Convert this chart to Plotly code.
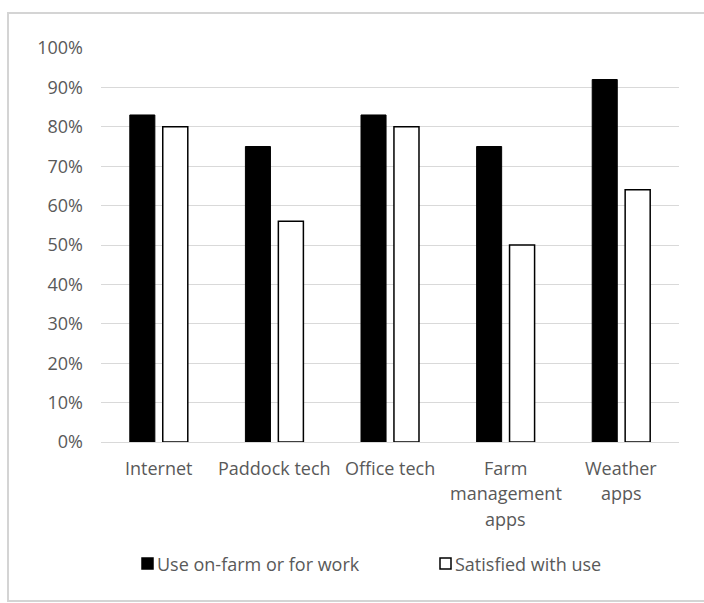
import plotly.graph_objects as go

categories = ["Internet", "Paddock tech", "Office tech", "Farm<br>management<br>apps", "Weather<br>apps"]
use_on_farm = [0.83, 0.75, 0.83, 0.75, 0.92]
satisfied = [0.80, 0.56, 0.80, 0.50, 0.64]
series_names = ["Use on-farm or for work", "Satisfied with use"]
series_fill = ["#000000", "#ffffff"]
y_ticks = [0, 0.1, 0.2, 0.3, 0.4, 0.5, 0.6, 0.7, 0.8, 0.9, 1.0]

W, H = 704, 603
L, R, T, B = 101, 25, 48, 161

fig = go.Figure()
fig.add_trace(go.Bar(x=categories, y=use_on_farm, name=series_names[0],
                     marker=dict(color=series_fill[0], line=dict(color="#000000", width=1))))
fig.add_trace(go.Bar(x=categories, y=satisfied, name=series_names[1],
                     marker=dict(color=series_fill[1], line=dict(color="#000000", width=1.5))))

font = dict(family="Open Sans, sans-serif", size=18, color="#595959")

pw = W - L - R
ph = H - T - B
def px_x(p):
    return (p - L) / pw
def px_y(p):
    return (H - B - p) / ph

annotations = []
# category labels, one annotation per text line
for cat in categories:
    for i, line in enumerate(cat.split("<br>")):
        annotations.append(dict(x=cat, xref="x", y=px_y(468 + 25.5 * i), yref="paper",
                                text=line, showarrow=False, xanchor="center", yanchor="middle",
                                font=font))

shapes = [
    dict(type="rect", xref="paper", yref="paper",
         x0=px_x(8), x1=px_x(712), y0=px_y(601), y1=px_y(13),
         line=dict(color="#d4d4d4", width=2), fillcolor="rgba(0,0,0,0)", layer="below"),
]
# manual legend
legend_x = [142, 440]
for name, fill, lx in zip(series_names, series_fill, legend_x):
    shapes.append(dict(type="rect", xref="paper", yref="paper",
                       x0=px_x(lx), x1=px_x(lx + 11), y0=px_y(569), y1=px_y(558),
                       line=dict(color="#000000", width=1.5), fillcolor=fill))
    annotations.append(dict(x=px_x(lx + 13), xref="paper", y=px_y(564), yref="paper",
                            text=name, showarrow=False, xanchor="left", yanchor="middle",
                            font=font))

fig.update_layout(
    width=W, height=H,
    margin=dict(l=L, r=R, t=T, b=B, autoexpand=False),
    paper_bgcolor="white", plot_bgcolor="white",
    barmode="group", bargap=0.43, bargroupgap=0.24,
    font=font,
    showlegend=False,
    xaxis=dict(showline=False, ticks="", showticklabels=False, showgrid=False),
    yaxis=dict(range=[0, 1.0], tickvals=y_ticks, tickformat=".0%", showgrid=True,
               gridcolor="#d9d9d9", gridwidth=1, zeroline=True, zerolinecolor="#d9d9d9",
               zerolinewidth=1, ticks="", tickfont=font, showline=False, ticklabelstandoff=17),
    shapes=shapes,
    annotations=annotations,
)

fig.write_html("out.html")
